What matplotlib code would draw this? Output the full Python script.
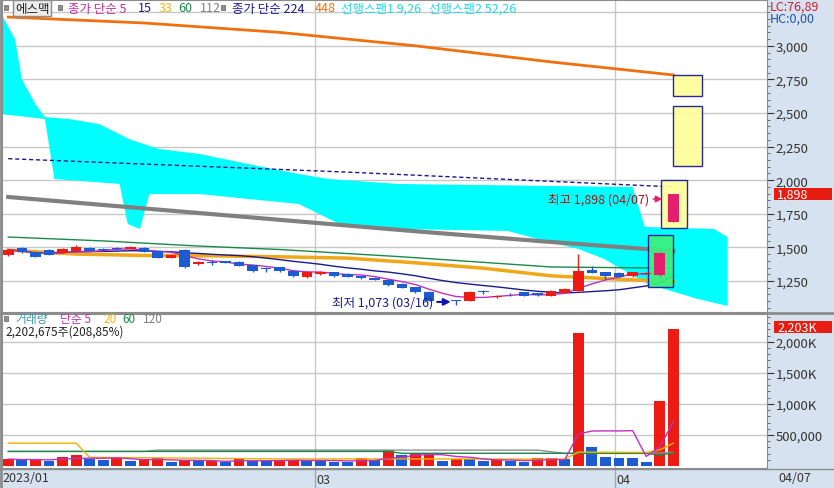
import matplotlib
matplotlib.use('Agg')
import matplotlib.pyplot as plt
import numpy as np
import pandas as pd
from matplotlib.patches import Rectangle

plt.rcParams['font.family'] = ['Noto Sans CJK KR', 'DejaVu Sans']

# daily candles, 2023/01/27 .. 2023/04/07
opens = [1443, 1496, 1466, 1481, 1458, 1473, 1496, 1488, 1496, 1488,
         1496, 1473, 1421, 1481, 1376, 1391, 1399, 1391, 1369, 1346,
         1354, 1324, 1280, 1302, 1317, 1302, 1287, 1272, 1257, 1228,
         1205, 1168, 1088, 1105, 1103, 1172, 1132, 1148, 1165, 1158,
         1141, 1160, 1175, 1332, 1317, 1310, 1287, 1302, 1295, 1690]
closes = [1481, 1466, 1429, 1443, 1488, 1503, 1473, 1477, 1488, 1503,
          1466, 1421, 1443, 1354, 1391, 1384, 1384, 1361, 1324, 1336,
          1324, 1287, 1317, 1317, 1287, 1280, 1272, 1257, 1220, 1198,
          1168, 1101, 1103, 1100, 1168, 1165, 1138, 1143, 1140, 1143,
          1175, 1190, 1324, 1310, 1287, 1280, 1317, 1310, 1460, 1898]
highs = [1490, 1503, 1470, 1488, 1495, 1518, 1500, 1492, 1500, 1507,
         1503, 1476, 1448, 1485, 1400, 1405, 1402, 1395, 1372, 1354,
         1357, 1328, 1322, 1322, 1320, 1306, 1290, 1276, 1260, 1232,
         1208, 1172, 1110, 1112, 1172, 1185, 1145, 1160, 1168, 1162,
         1180, 1195, 1451, 1361, 1320, 1313, 1320, 1313, 1466, 1898]
lows = [1436, 1460, 1425, 1440, 1455, 1470, 1470, 1473, 1484, 1485,
        1462, 1418, 1418, 1345, 1370, 1370, 1380, 1358, 1320, 1320,
        1320, 1283, 1272, 1298, 1283, 1276, 1268, 1254, 1216, 1194,
        1164, 1098, 1080, 1073, 1100, 1155, 1125, 1135, 1137, 1140,
        1138, 1157, 1172, 1306, 1265, 1277, 1283, 1299, 1290, 1690]
volumes = [112, 96, 105, 85, 150, 180, 115, 90, 125, 75,
           105, 130, 60, 90, 75, 80, 70, 115, 80, 78,
           95, 100, 90, 85, 70, 62, 130, 100, 250, 170,
           205, 210, 75, 110, 105, 75, 115, 80, 60, 130,
           132, 105, 2150, 300, 140, 130, 128, 70, 1050, 2203]
volumes = np.array(volumes) * 1000

# long moving averages (bar index -> price)
ma33_x = [0, 5, 10, 15, 20, 25, 30, 35, 40, 45, 49]
ma33_y = [1480, 1450, 1440, 1437, 1430, 1420, 1385, 1345, 1288, 1263, 1245]
ma60_x = [0, 7, 14, 20, 29, 40, 47, 49]
ma60_y = [1577, 1548, 1510, 1484, 1430, 1354, 1347, 1347]
ma112_x = [0, 10, 20, 30, 40, 49]
ma112_y = [1875, 1790, 1705, 1620, 1540, 1473]
ma224_x = [0, 25, 49]
ma224_y = [2160, 2060, 1950]
ma448_x = [0, 10, 20, 30, 40, 49]
ma448_y = [3214, 3170, 3100, 3000, 2880, 2783]

# ichimoku cloud edges (bar index, price)
cloud_top_x = [-0.5, 0.5, 1, 2, 2.7, 4.5, 6.7, 8.9, 11.1, 14.1, 17.7, 21.4, 23.6, 28.7, 46, 46.9, 52, 53]
cloud_top_y = [3236, 3050, 2753, 2567, 2470, 2455, 2418, 2306, 2232, 2195, 2120, 2046, 2009, 1972, 1949, 1652, 1637, 1577]
cloud_bot_x = [-0.5, 2.7, 3.4, 8.2, 8.8, 9.7, 10.4, 14.1, 17.7, 21.4, 24.4, 28.7, 36.8, 39, 42, 43.9, 47.1, 50.8, 53]
cloud_bot_y = [2492, 2455, 2009, 1972, 1674, 1637, 1897, 1897, 1860, 1823, 1674, 1637, 1622, 1562, 1488, 1414, 1228, 1116, 1064]

# volume moving averages
vma20_x = [0, 5, 6, 20, 41, 42, 47, 48, 49]
vma20_y = [368, 368, 140, 115, 112, 224, 219, 260, 368]
vma60_x = [0, 28, 29, 47, 48, 49]
vma60_y = [235, 235, 205, 205, 175, 210]
vma120_x = [0, 10, 11, 39, 41, 47, 49]
vma120_y = [235, 235, 256, 256, 203, 203, 219]

# highlight boxes (x0, x1, low, high, face)
boxes = [(47.1, 49.0, 1205, 1592, '#3cf07c'),
         (48.1, 50.0, 1644, 2001, '#ffff99'),
         (49.0, 51.1, 2106, 2552, '#ffff99'),
         (49.0, 51.1, 2626, 2783, '#ffff99')]

month_pos = [22.6, 44.7]
month_lbl = ['03', '04']

price_ticks = [1250, 1500, 1750, 2000, 2250, 2500, 2750, 3000, 3250]
vol_ticks = [500000, 1000000, 1500000, 2000000]
vol_lbls = ['500,000', '1,000K', '1,500K', '2,000K']

W, H = 834, 489
def box(x0, y0, x1, y1):
    return [x0 / W, 1 - y1 / H, (x1 - x0) / W, (y1 - y0) / H]

fig = plt.figure(figsize=(8.34, 4.89), dpi=100)
fig.patch.set_facecolor('#d6e2ef')
ax = fig.add_axes(box(2, 1, 767, 313))
axv = fig.add_axes(box(2, 315, 767, 469), sharex=ax)

RED = '#ec1c14'
BLUE = '#1c5cd0'
PINK = '#e4206c'
GRID = '#c8c8c8'

n = len(closes)
x = np.arange(n)
o = np.array(opens); c = np.array(closes)
hi = np.array(highs); lo = np.array(lows)

for a in (ax, axv):
    a.set_facecolor('white')
    for s in a.spines.values():
        s.set_color('#8c8c8c')
    for m in month_pos:
        a.axvline(m, color=GRID, lw=1, zorder=0)
ax.set_xlim(-0.46, 55.9)
ax.set_ylim(1019, 3341)

for p in price_ticks:
    ax.axhline(p, color=GRID, lw=1, zorder=0)

# cloud
poly_x = list(cloud_top_x) + list(cloud_bot_x[::-1])
poly_y = list(cloud_top_y) + list(cloud_bot_y[::-1])
ax.fill(poly_x, poly_y, color='#00ffff', lw=0, zorder=1)

# moving averages
ax.plot(ma448_x, ma448_y, color='#f07010', lw=2, zorder=3)
ax.plot(ma224_x, ma224_y, color='#1a1a8c', lw=1, ls=(0, (3, 2)), zorder=3)
ax.plot(ma112_x, ma112_y, color='#808080', lw=3, zorder=3)
ax.plot(ma60_x, ma60_y, color='#1a8a4a', lw=1, zorder=3)
ax.plot(ma33_x, ma33_y, color='#f0a818', lw=2.5, zorder=3)
ma15 = pd.Series(c).rolling(15, min_periods=1).mean()
ma5 = pd.Series(c).rolling(5, min_periods=1).mean()
ax.plot(x, ma15, color='#1a1a8c', lw=1, zorder=4)
ax.plot(x, ma5, color='#c030c0', lw=1, zorder=4)

for x0, x1, p0, p1, fc in boxes:
    ax.add_patch(Rectangle((x0, p0), x1 - x0, p1 - p0, facecolor=fc,
                           edgecolor='#1414a0', lw=1, alpha=0.92, zorder=5))

# candles
col = np.where(c >= o, RED, BLUE).astype(object)
col[-2:] = PINK
ax.vlines(x, lo, hi, color=col, lw=1, zorder=6)
body = np.maximum(np.abs(c - o), 6)
ax.bar(x, body, bottom=np.minimum(o, c), width=0.78, color=col, zorder=7)

# min / max notes
ax.annotate('', xy=(48.4, 1860), xytext=(47.3, 1860),
            arrowprops=dict(arrowstyle='-|>', color=PINK, lw=1), zorder=8)
ax.text(47.2, 1860, '최고 1,898 (04/07)', color='#b01010', fontsize=9,
        ha='right', va='center', zorder=8)
ax.annotate('', xy=(32.8, 1094), xytext=(31.4, 1094),
            arrowprops=dict(arrowstyle='-|>', color='#1010b0', lw=1.5), zorder=8)
ax.text(31.3, 1094, '최저 1,073 (03/16)', color='#1a1a8c', fontsize=9,
        ha='right', va='center', zorder=8)

ax.yaxis.tick_right()
ax.set_yticks(price_ticks[:-1])
ax.set_yticklabels([f'{p:,}' for p in price_ticks[:-1]])
ax.set_yticks(np.arange(1050, 3341, 50), minor=True)
ax.tick_params(axis='y', which='major', length=5, pad=1, labelsize=9.5,
               colors='#333333', labelcolor='#333333')
ax.tick_params(axis='y', which='minor', length=2, colors='#555555')
ax.tick_params(axis='x', length=0, labelbottom=False)

# volume
vup = np.r_[True, volumes[1:] > volumes[:-1]]
axv.bar(x, volumes, width=0.8, color=np.where(vup, RED, BLUE), zorder=2)
vma5 = pd.Series(volumes).rolling(5, min_periods=1).mean()
axv.plot(vma120_x, np.array(vma120_y) * 1000, color='#909090', lw=1, zorder=3)
axv.plot(vma60_x, np.array(vma60_y) * 1000, color='#1a8a4a', lw=1, zorder=3)
axv.plot(vma20_x, np.array(vma20_y) * 1000, color='#f0b000', lw=1, zorder=3)
axv.plot(x, vma5, color='#c030c0', lw=1, zorder=4)
axv.set_ylim(-32000, 2448000)
for v in vol_ticks:
    axv.axhline(v, color=GRID, lw=1, zorder=0)
axv.yaxis.tick_right()
axv.set_yticks(vol_ticks)
axv.set_yticklabels(vol_lbls)
axv.set_yticks(np.arange(100000, 2448000, 100000), minor=True)
axv.tick_params(axis='y', which='major', length=5, pad=1, labelsize=9.5,
                colors='#333333', labelcolor='#333333')
axv.tick_params(axis='y', which='minor', length=2, colors='#555555')
axv.tick_params(axis='x', length=0, labelbottom=False)

# date strip
fig.text(2 / W, 1 - 479 / H, '2023/01', fontsize=9, color='#333333', va='center')
for m, lb in zip(month_pos, month_lbl):
    axv.text(m + 0.12, -0.075, lb, transform=axv.get_xaxis_transform(),
             fontsize=9, color='#333333', va='center', clip_on=False)
    axv.plot([m, m], [-0.13, 0], transform=axv.get_xaxis_transform(),
             color='#a0a8b4', lw=1, clip_on=False)
fig.text(778 / W, 1 - 479 / H, '04/07', fontsize=9, color='#333333', va='center')

# header legend
def ftx(px, py, s, color, size=9, **kw):
    fig.text(px / W, 1 - py / H, s, color=color, fontsize=size, va='center', **kw)

def sq(px, py):
    fig.patches.append(Rectangle((px / W, 1 - (py + 3) / H), 4 / W, 5 / H,
                                 transform=fig.transFigure, facecolor='#909090',
                                 edgecolor='#606060', lw=0.5))

sq(4, 8)
ftx(15, 9, '에스맥', '#222222',
    bbox=dict(boxstyle='square,pad=0.15', facecolor='#ececec', edgecolor='#8c8c8c', lw=1))
sq(58, 8)
ftx(68, 9, '종가 단순 5', '#c030a0')
ftx(138, 9, '15', '#1a1a8c')
ftx(159, 9, '33', '#e8b820')
ftx(178, 9, '60', '#1a8a4a')
ftx(200, 9, '112', '#808080')
sq(221, 8)
ftx(232, 9, '종가 단순 224', '#1a1a8c')
ftx(315, 9, '448', '#f07010')
ftx(341, 9, '선행스팬1 9,26', '#20d8e8')
ftx(429, 9, '선행스팬2 52,26', '#20d8e8')
ftx(770, 7, 'LC:76,89', '#d02030')
ftx(770, 19, 'HC:0,00', '#2050b0')

sq(4, 319)
ftx(15, 319.5, '거래량', '#3a9aa8', 8.5)
ftx(60, 319.5, '단순 5', '#c030a0', 8.5)
ftx(103, 319.5, '20', '#e8b820', 8.5)
ftx(122, 319.5, '60', '#1a8a4a', 8.5)
ftx(143, 319.5, '120', '#808080', 8.5)
ftx(5, 332.5, '2,202,675주(208,85%)', '#222222', 8.5)

# current value tags on the right
fig.patches.append(Rectangle((774 / W, 1 - 201 / H), 58 / W, 12 / H,
                             transform=fig.transFigure, facecolor='#e81c10', lw=0))
ftx(777, 195, f'{closes[-1]:,}', 'white')
fig.patches.append(Rectangle((774 / W, 1 - 334 / H), 58 / W, 12 / H,
                             transform=fig.transFigure, facecolor='#e81c10', lw=0))
ftx(777, 328, f'{volumes[-1] / 1000:,.0f}K', 'white')

# pane separators
fig.add_artist(plt.Line2D([0, 1], [1 - 314 / H] * 2, color='#8c8c8c', lw=2))
fig.add_artist(plt.Line2D([0, 1], [1 - 469.5 / H] * 2, color='#8c8c8c', lw=1))
fig.add_artist(plt.Line2D([1 / W] * 2, [0, 1], color='#8c8c8c', lw=2))

fig.savefig('out.png', dpi=100, facecolor=fig.get_facecolor())
